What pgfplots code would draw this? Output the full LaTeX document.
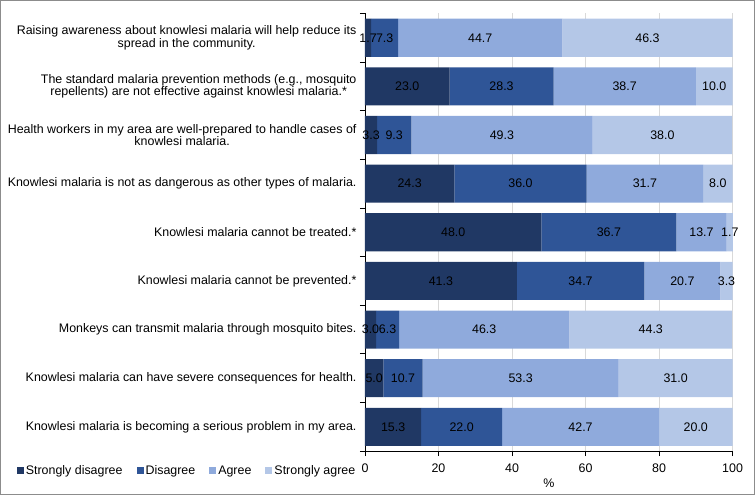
\documentclass[border=0pt]{standalone}
\usepackage{fontspec}
\setmainfont{Liberation Sans}
\usepackage{pgfplots}
\pgfplotsset{compat=1.18}
\usepackage{pgfplotstable}
\definecolor{csd}{RGB}{32,56,100}
\definecolor{cd}{RGB}{47,85,151}
\definecolor{ca}{RGB}{143,170,220}
\definecolor{csa}{RGB}{180,199,231}
\pgfplotstableread{
y sd d a sa
0 1.7 7.3 44.7 46.3
1 23.0 28.3 38.7 10.0
2 3.3 9.3 49.3 38.0
3 24.3 36.0 31.7 8.0
4 48.0 36.7 13.7 1.7
5 41.3 34.7 20.7 3.3
6 3.0 6.3 46.3 44.3
7 5.0 10.7 53.3 31.0
8 15.3 22.0 42.7 20.0
}\datatable
\newcommand{\lfont}{\fontsize{12.4}{12.8}\selectfont}
\begin{document}
\begin{tikzpicture}
\begin{axis}[
  name=ax, clip=false,
  scale only axis, width=367pt, height=437pt,
  xbar stacked, bar width=38pt,
  xmin=0, xmax=100, ymin=-0.5, ymax=8.5, y dir=reverse,
  axis lines=left, axis line style={-, black},
  xtick={0,20,...,100},
  ytick={0,...,8},
  yticklabels={
    {Raising awareness about knowlesi malaria will help reduce its\\spread in the community.},
    {The standard malaria prevention methods (e.g., mosquito\\repellents) are not effective against knowlesi malaria.*},
    {Health workers in my area are well-prepared to handle cases of\\knowlesi malaria.},
    {Knowlesi malaria is not as dangerous as other types of malaria.},
    {Knowlesi malaria cannot be treated.*},
    {Knowlesi malaria cannot be prevented.*},
    {Monkeys can transmit malaria through mosquito bites.},
    {Knowlesi malaria can have severe consequences for health.},
    {Knowlesi malaria is becoming a serious problem in my area.}
  },
  minor ytick={-0.5,0.5,...,8.5},
  tick align=outside, major tick length=5pt, minor tick length=5pt,
  every major y tick/.style={draw=none},
  every minor y tick/.style={black, line width=0.8pt},
  every major x tick/.style={black, line width=0.8pt},
  xmajorgrids, grid style={draw=black!15, line width=0.6pt},
  yticklabel style={align=center, font=\lfont},
  xticklabel style={font=\lfont, yshift=-4pt},
  /pgf/number format/assume math mode=true,
  xlabel={\%},
  x label style={at={(axis description cs:0.5,-0.073)}, anchor=center, font=\lfont},
  point meta=explicit,
  nodes near coords={\pgfmathprintnumber[fixed,fixed zerofill,precision=1]{\pgfplotspointmeta}},
  every node near coord/.append style={font=\lfont, text=black, anchor=center},
  legend style={at={(-0.484,-0.045)}, anchor=center, draw=none, fill=none, font=\lfont,
    /tikz/every even column/.append style={column sep=12pt}},
  legend columns=4,
  legend image code/.code={\fill[#1] (0pt,-3.5pt) rectangle (7pt,3.5pt);},
]
\addplot[fill=csd, draw=none] table[x=sd, y=y, meta=sd]{\datatable};
\addplot[fill=cd, draw=none] table[x=d, y=y, meta=d]{\datatable};
\addplot[fill=ca, draw=none] table[x=a, y=y, meta=a]{\datatable};
\addplot[fill=csa, draw=none] table[x=sa, y=y, meta=sa]{\datatable};
\legend{Strongly disagree, Disagree, Agree, Strongly agree}
\end{axis}
\draw[black!45, line width=0.8pt] ([xshift=-364pt,yshift=-43pt]ax.south west) rectangle ([xshift=22pt,yshift=13pt]ax.north east);
\end{tikzpicture}
\end{document}
